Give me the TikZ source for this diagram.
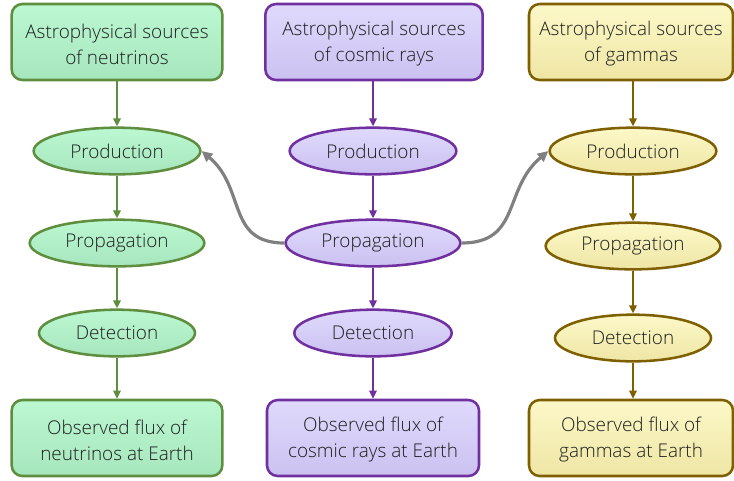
\documentclass[tikz,border=0pt]{standalone}
\usepackage{fontspec}
\setmainfont{Open Sans Light}
\usetikzlibrary{arrows.meta,shapes.geometric}

\definecolor{textgray}{HTML}{1E1E1E}
\definecolor{arrowgray}{HTML}{808080}
\definecolor{nuline}{HTML}{5E8E3E}
\definecolor{nutop}{HTML}{BCF8D2}
\definecolor{nubot}{HTML}{A6E6BD}
\definecolor{crline}{HTML}{7030A0}
\definecolor{crtop}{HTML}{DFDAFC}
\definecolor{crbot}{HTML}{CBC1F1}
\definecolor{galine}{HTML}{7F6000}
\definecolor{gatop}{HTML}{FCF8C8}
\definecolor{gabot}{HTML}{EFE6A5}

\begin{document}
\begin{tikzpicture}[x=0.75pt,y=-0.75pt,
    font=\fontsize{14.2}{19.5}\selectfont, text=textgray,
    srcbox/.style={rectangle, rounded corners=8pt, line width=1.9pt,
        minimum height=57pt, align=center, inner sep=0pt},
    stepell/.style={ellipse, line width=1.9pt, minimum height=35pt, inner sep=0pt},
    nu/.style={draw=nuline, top color=nutop, bottom color=nubot},
    cr/.style={draw=crline, top color=crtop, bottom color=crbot},
    ga/.style={draw=galine, top color=gatop, bottom color=gabot},
    flow/.style={-{Triangle[length=6pt,width=5.5pt]}, line width=1.5pt},
    cross/.style={-{Triangle[length=8pt,width=7.5pt]}, line width=2.4pt, draw=arrowgray}]

    \useasboundingbox (0,0) rectangle (734,480);

    % neutrinos
    \node[srcbox, nu, minimum width=158pt] (nusrc) at (117,42) {\strut Astrophysical sources\\of neutrinos};
    \node[stepell, nu, minimum width=125pt] (nuprod) at (117,151) {Production};
    \node[stepell, nu, minimum width=131pt] (nuprop) at (117,243) {Propagation};
    \node[stepell, nu, minimum width=117pt] (nudet) at (117,333) {Detection};
    \node[srcbox, nu, minimum width=158pt] (nuobs) at (117,438) {\strut Observed flux of\\neutrinos at Earth};

    % cosmic rays
    \node[srcbox, cr, minimum width=163pt] (crsrc) at (374,42) {\strut Astrophysical sources\\of cosmic rays};
    \node[stepell, cr, minimum width=125pt] (crprod) at (373,151) {Production};
    \node[stepell, cr, minimum width=131pt] (crprop) at (373,243) {Propagation};
    \node[stepell, cr, minimum width=118pt] (crdet) at (373,333) {Detection};
    \node[srcbox, cr, minimum width=159pt] (crobs) at (373,438) {\strut Observed flux of\\cosmic rays at Earth};

    % gammas
    \node[srcbox, ga, minimum width=153pt] (gasrc) at (631,42) {\strut Astrophysical sources\\of gammas};
    \node[stepell, ga, minimum width=125pt] (gaprod) at (633,151) {Production};
    \node[stepell, ga, minimum width=131pt] (gaprop) at (633,246) {Propagation};
    \node[stepell, ga, minimum width=117pt] (gadet) at (633,338) {Detection};
    \node[srcbox, ga, minimum width=153pt] (gaobs) at (631,438) {\strut Observed flux of\\gammas at Earth};

    \draw[flow, nuline] (nusrc) -- (nuprod);
    \draw[flow, nuline] (nuprod) -- (nuprop);
    \draw[flow, nuline] (nuprop) -- (nudet);
    \draw[flow, nuline] (nudet) -- (nuobs);

    \draw[flow, crline] (crsrc.south -| crprod) -- (crprod);
    \draw[flow, crline] (crprod) -- (crprop);
    \draw[flow, crline] (crprop) -- (crdet);
    \draw[flow, crline] (crdet) -- (crobs);

    \draw[flow, galine] (gasrc.south -| gaprod) -- (gaprod);
    \draw[flow, galine] (gaprod) -- (gaprop);
    \draw[flow, galine] (gaprop) -- (gadet);
    \draw[flow, galine] (gadet) -- (gaobs.north -| gadet);

    % propagation feeds the other messengers
    \draw[cross] (crprop.west) to[out=180, in=-40, looseness=1.2] (nuprod.east);
    \draw[cross] (crprop.east) to[out=0, in=220, looseness=1.2] (gaprod.west);
\end{tikzpicture}
\end{document}
